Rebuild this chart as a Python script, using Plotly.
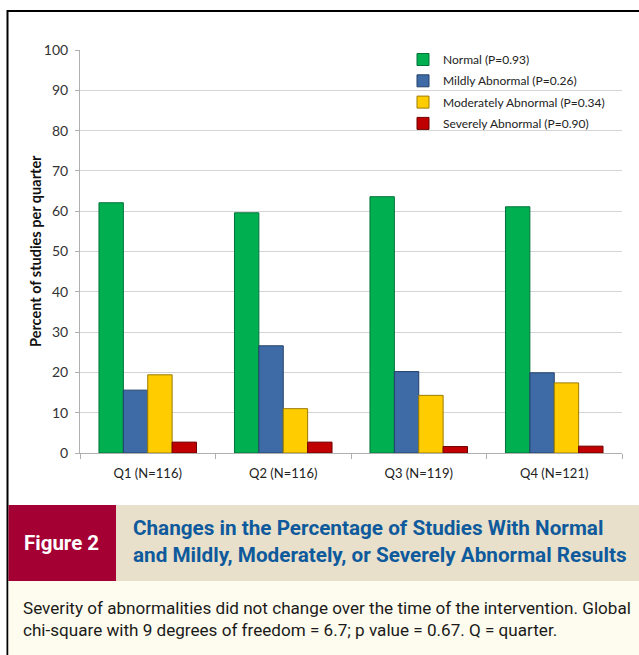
import plotly.graph_objects as go

W, H = 639, 655

categories = ["Q1 (N=116)", "Q2 (N=116)", "Q3 (N=119)", "Q4 (N=121)"]
normal = [62.1, 59.6, 63.6, 61.1]
mildly = [15.6, 26.6, 20.2, 19.9]
moderately = [19.4, 11.0, 14.3, 17.4]
severely = [2.7, 2.7, 1.6, 1.7]
series_names = ["Normal (P=0.93)", "Mildly Abnormal (P=0.26)",
                "Moderately Abnormal (P=0.34)", "Severely Abnormal (P=0.90)"]
y_ticks = [0, 10, 20, 30, 40, 50, 60, 70, 80, 90, 100]

fills = ["#00B050", "#3E6BA6", "#FFCC00", "#C00000"]
edges = ["#00723A", "#22416A", "#9C7C00", "#6E0000"]

fig = go.Figure()
for i, (name, vals, fc, ec) in enumerate(zip(series_names, [normal, mildly, moderately, severely], fills, edges)):
    fig.add_trace(go.Bar(x=categories, y=vals, name=name, legendgroup=f"g{i}",
                         marker=dict(color=fc, line=dict(color=ec, width=1))))

x0, x1 = 80 / W, 622 / W
y0, y1 = 1 - 453 / H, 1 - 50 / H

base = "Lato, Open Sans, sans-serif"

fig.update_layout(
    width=W, height=H,
    margin=dict(l=0, r=0, t=0, b=0, pad=0),
    paper_bgcolor="white", plot_bgcolor="white",
    barmode="group", bargap=0.28, bargroupgap=0.0,
    font=dict(family=base, color="#222"),
    xaxis=dict(domain=[x0, x1], showline=True, linecolor="#B0B0B0", linewidth=1,
               ticks="outside", tickson="boundaries", ticklen=5, tickcolor="#B0B0B0",
               tickfont=dict(family=base, size=13, color="#222"), ticklabelstandoff=8,
               showgrid=False, automargin=False),
    yaxis=dict(domain=[y0, y1], range=[0, 100], tickvals=y_ticks, showline=True,
               linecolor="#B0B0B0", linewidth=1, ticks="outside", ticklen=4,
               tickcolor="#B0B0B0", gridcolor="#D4D4D4", gridwidth=1,
               tickfont=dict(family=base, size=14, color="#333"), zeroline=False,
               ticklabelstandoff=4, automargin=False),
    legend=dict(x=403 / W, y=1 - 45 / H, xanchor="left", yanchor="top",
                bgcolor="rgba(0,0,0,0)", font=dict(family=base, size=12, color="#222"),
                itemwidth=30, tracegroupgap=2.3),
    showlegend=True,
)

shapes = []
shapes.append(dict(type="line", xref="paper", yref="paper", x0=7.5 / W, x1=1,
                   y0=1 - 11 / H, y1=1 - 11 / H, line=dict(color="black", width=2)))
shapes.append(dict(type="line", xref="paper", yref="paper", x0=7.5 / W, x1=7.5 / W,
                   y0=0, y1=1 - 10 / H, line=dict(color="black", width=2)))
shapes.append(dict(type="rect", xref="paper", yref="paper", x0=8.5 / W, x1=116 / W,
                   y0=1 - 581 / H, y1=1 - 505 / H, fillcolor="#A50034", line=dict(width=0)))
shapes.append(dict(type="rect", xref="paper", yref="paper", x0=116 / W, x1=1,
                   y0=1 - 581 / H, y1=1 - 505 / H, fillcolor="#E8E0CA", line=dict(width=0)))
shapes.append(dict(type="rect", xref="paper", yref="paper", x0=8.5 / W, x1=1,
                   y0=0, y1=1 - 581 / H, fillcolor="#FEFCEE", line=dict(width=0)))
fig.update_layout(shapes=shapes)

cond = "Roboto, sans-serif"
ann = []
ann.append(dict(text="<b>Percent of studies per quarter</b>", textangle=-90,
                xref="paper", yref="paper", x=35 / W, y=1 - 251 / H,
                xanchor="center", yanchor="middle",
                showarrow=False, font=dict(family=base, size=14.5, color="#111")))
ann.append(dict(text="<b>Figure 2</b>", xref="paper", yref="paper", x=61 / W, y=1 - 543 / H,
                xanchor="center", yanchor="middle",
                showarrow=False, font=dict(family=cond, size=20.5, color="white")))
ann.append(dict(text="<b>Changes in the Percentage of Studies With Normal<br>and Mildly, Moderately, or Severely Abnormal Results</b>",
                xref="paper", yref="paper", x=131 / W, y=1 - 541 / H, xanchor="left", yanchor="middle",
                align="left", showarrow=False,
                font=dict(family=cond, size=20.7, color="#0E5A9C")))
ann.append(dict(text="Severity of abnormalities did not change over the time of the intervention. Global<br>chi-square with 9 degrees of freedom = 6.7; p value = 0.67. Q = quarter.",
                xref="paper", yref="paper", x=21 / W, y=1 - 619 / H, xanchor="left", yanchor="middle",
                align="left", showarrow=False,
                font=dict(family=cond, size=17.1, color="#1A1A1A")))
fig.update_layout(annotations=ann)

fig.write_html("out.html", config={"displayModeBar": False},
               post_script="document.body.style.margin='0';document.body.style.overflow='hidden';")
